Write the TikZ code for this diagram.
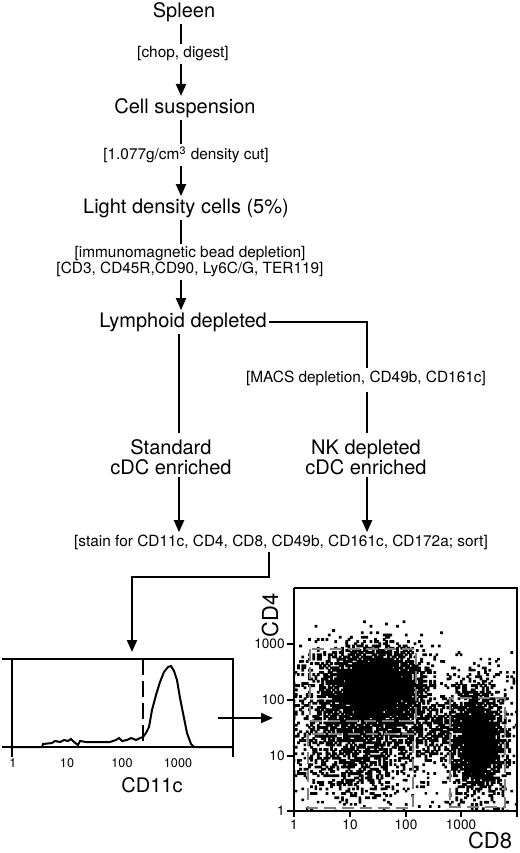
\documentclass[tikz,border=0pt]{standalone}
\usepackage{fontspec}
\setmainfont{TeX Gyre Heros}
\usepackage{tikz}
\usetikzlibrary{arrows.meta, calc}
\tikzset{every node/.style={font=\fontsize{10}{10}\selectfont}, >={Triangle[length=6pt, width=5pt]}}
\tikzset{
    stage/.style={inner sep=1pt, align=center, font=\fontsize{10}{10}\selectfont},
    cond/.style={inner sep=1pt, align=center, font=\fontsize{7.7}{8}\selectfont},
    flow/.style={line width=1pt},
    frame/.style={line width=0.6pt},
    gate/.style={black!50, line width=1pt, dash pattern=on 6pt off 3pt},
    ticklbl/.style={inner sep=1pt, font=\fontsize{6.3}{7}\selectfont},
    axislbl/.style={inner sep=1pt, font=\fontsize{10}{10}\selectfont}
}

\begin{document}
\begin{tikzpicture}[x=0.5pt, y=-0.5pt]
    \useasboundingbox (0,0) rectangle (520,853);
    \coordinate (spine) at (181,0);
    \coordinate (left) at (179,0);
    \coordinate (right) at (367,0);

    % preparation steps
    \node [stage] (spleen) at (184,12) {Spleen};
    \node [cond] (chop) at (183,54) {[chop, digest]};
    \node [stage] (cell) at (185,108) {Cell suspension};
    \node [cond] (cut) at (186,155) {[1.077g/cm\textsuperscript{3} density cut]};
    \node [stage] (light) at (186,208) {Light density cells (5\%)};
    \node [cond] (bead) at (190,262) {[immunomagnetic bead depletion]\\ {[}CD3, CD45R,CD90, Ly6C/G, TER119]};
    \node [stage] (lymph) at (183,322) {Lymphoid depleted};
    \node [cond] (macs) at (366,378) {[MACS depletion, CD49b, CD161c]};
    \node [stage] (std) at (171,457) {Standard\\ cDC enriched};
    \node [stage] (nk) at (366,457) {NK depleted\\ cDC enriched};
    \node [cond] (stain) at (281,542) {[stain for CD11c, CD4, CD8, CD49b, CD161c, CD172a; sort]};

    \draw [flow] (spleen.south -| spine) -- (chop.north -| spine);
    \draw [flow, ->] (chop.south -| spine) -- (cell.north -| spine);
    \draw [flow] (cell.south -| spine) -- (cut.north -| spine);
    \draw [flow, ->] (cut.south -| spine) -- (light.north -| spine);
    \draw [flow] (light.south -| spine) -- (bead.north -| spine);
    \draw [flow, ->] (bead.south -| spine) -- (lymph.north -| spine);
    \draw [flow, shorten >=2pt] (lymph.south -| left) -- (std.north -| left);
    \draw [flow] (lymph.east) -| (macs.north -| right);
    \draw [flow, shorten <=2pt, shorten >=2pt] (macs.south -| right) -- (nk.north -| right);
    \draw [flow, ->] (std.south -| left) -- (stain.north -| left);
    \draw [flow, ->] (nk.south -| right) -- (stain.north -| right);

    \coordinate (bend) at (269,577);
    \coordinate (histtop) at (132,652);
    \draw [flow, ->] (stain.south -| bend) -- (bend) -| (histtop);

    % CD11c histogram
    \draw [frame] (2,659) -- (233,659) -- (233,757);
    \draw [frame] (12,659) -- (12,757);
    \draw [frame] (2,747) -- (233,747);
    \draw [frame, dash pattern=on 8pt off 3pt] (143,659) -- (143,747);
    \draw [line width=1pt] (12,747) -- (42,747) -- (43,744) -- (52,743) -- (55,741) -- (60,742) -- (64,740)
        -- (68,741) -- (71,739) -- (74,742) -- (78,745) -- (80,741) -- (86,742) -- (95,742) -- (110,742)
        -- (116,740) -- (119,738) -- (122,741) -- (127,740) -- (131,738) -- (136,740) -- (140,738)
        -- (143,737) -- (146,733) -- (149,727) -- (152,710) -- (156,695) -- (160,682) -- (164,672)
        -- (168,667) -- (171,666) -- (174,671) -- (177,680) -- (180,698) -- (184,718) -- (187,733)
        -- (191,744) -- (194,747) -- (233,747);
    \foreach \x/\t in {13/1, 67/10, 122/100, 178/1000} {
        \node [ticklbl, below] (ht\t) at (\x,756) {\t};
    }
    \node [axislbl] (cdllc) at (152,785) {CD11c};

    \coordinate (hout) at (218,718);
    \coordinate (din) at (273,718);
    \draw [flow, ->] (hout) -- (din);

    % CD4 / CD8 dot plot
    \begin{scope}
        \clip (295,589) rectangle (517,811);
        \fill (374,687) ellipse [x radius=30, y radius=25];
        \fill (478,748) ellipse [x radius=11, y radius=32];
        \pgfmathsetseed{2024}
        \foreach \cx/\cy/\sx/\sy/\n in {373/687/22/19/3000, 362/698/36/28/1200, 355/755/25/22/700, 477/738/13/26/2000, 430/730/22/14/400} {
            \fill \foreach \i in {1,...,\n} {({2.2*round((\cx+\sx*(rand+rand+rand))/2.2)}, {2.2*round((\cy+\sy*(rand+rand+rand))/2.2)}) rectangle ++(2.8,2.8)};
        }
        \fill \foreach \i in {1,...,400} {({2.2*round((405+110*rand)/2.2)}, {2.2*round((732+80*rand)/2.2)}) rectangle ++(2.6,2.6)};
    \end{scope}
    \draw [gate] (310,649) rectangle (416,721);
    \draw [gate] (308,734) rectangle (413,808);
    \draw [gate] (450,698) rectangle (505,807);

    \draw [frame] (294,588) -- (294,817);
    \draw [frame] (294,588) -- (517,588) -- (517,817);
    \draw [frame] (294,811) -- (517,811);
    \foreach \y/\t in {811/1, 756/10, 700/100, 644/1000} {
        \draw [frame] (287,\y) -- (294,\y);
        \node [ticklbl, left, font=\fontsize{6.8}{7}\selectfont] (yt\t) at (287,\y) {\t};
    }
    \foreach \x/\t in {294/1, 350/10, 406/100, 461/1000} {
        \draw [frame] (\x,811) -- (\x,817);
        \node [ticklbl, below, font=\fontsize{6.8}{7}\selectfont] (xt\t) at (\x,817) {\t};
    }
    \node [axislbl, font=\fontsize{11}{11}\selectfont] (cdeight) at (490,840) {CD8};
    \node [axislbl, font=\fontsize{11}{11}\selectfont, rotate=90] (cdfour) at (270,615) {CD4};
\end{tikzpicture}
\end{document}
